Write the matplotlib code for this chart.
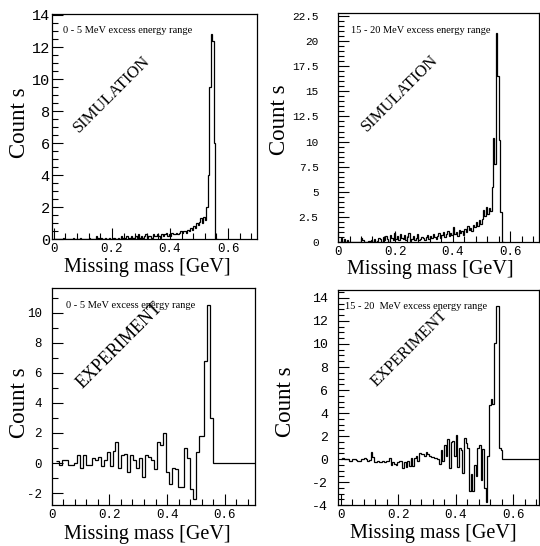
import numpy as np
import matplotlib
matplotlib.use("Agg")
import matplotlib.pyplot as plt
from matplotlib.ticker import MultipleLocator, FormatStrFormatter

SERIF = "Liberation Serif"
MONO = "Liberation Mono"

# ------------------------------------------------------------
# Simulated missing-mass spectra, 5 MeV bins starting at 0 GeV
# ------------------------------------------------------------
SIM_BIN = 0.005
sim_0_5 = [
    0, 0, 0, 0, 0, 0, 0.1, 0, 0, 0, 0, 0, 0, 0.1, 0, 0, 0, 0, 0.1, 0,
    0, 0, 0, 0, 0.1, 0, 0, 0, 0, 0.2, 0.1, 0, 0.1, 0, 0, 0.1, 0, 0, 0.1, 0,
    0, 0.1, 0, 0, 0.1, 0, 0.2, 0.1, 0, 0.1, 0.2, 0, 0.1, 0.2, 0.1, 0.1, 0.2, 0.1, 0.3, 0.1,
    0.2, 0.1, 0.2, 0.3, 0.1, 0.2, 0.2, 0.1, 0.3, 0.2, 0.2, 0.3, 0.2, 0.1, 0.3, 0.2, 0.3, 0.4, 0.2, 0.3,
    0.2, 0.4, 0.3, 0.3, 0.4, 0.3, 0.4, 0.5, 0.4, 0.5, 0.5, 0.4, 0.6, 0.5, 0.7, 0.6, 0.8, 0.7, 1.0, 0.9,
    1.1, 1.3, 1.0, 1.4, 1.2, 2.0, 4.0, 9.5, 12.8, 12.4, 6.0, 0, 0,
]
sim_15_20 = [
    0, 0, 0.4, 0, 0.3, 0, 0.2, 0, 0, 0, 0, 0, 0, 0, 0, 0, 0.4, 0.2, 0, 0,
    0, 0.1, 0, 0.2, 0, 0.3, 0, 0.1, 0.4, 0.3, 0, 0.5, 0.2, 0.6, 0.3, 0, 0.7, 0.4, 0.2, 0.9,
    0.3, 0.6, 0.2, 0.8, 0.4, 0.3, 0.7, 0.2, 0.5, 0.9, 0.1, 0.3, 0.6, 0.2, 0.4, 0.8, 0.2, 0.3, 0.5, 0.4,
    0.2, 0.5, 0.7, 0.3, 0.6, 0.4, 0.8, 0.5, 0.3, 0.6, 0.9, 0.4, 0.7, 1.0, 0.5, 0.8, 1.1, 0.6, 0.9, 0.7,
    1.5, 0.8, 1.0, 0.6, 1.2, 0.9, 1.1, 0.7, 1.3, 1.0, 1.6, 1.2, 1.4, 1.1, 1.7, 1.5, 2.0, 1.6, 2.2, 1.8,
    2.3, 3.2, 2.6, 3.5, 2.8, 3.4, 3.1, 5.5, 10.4, 7.8, 20.8, 16.5, 10.2, 3.0, 0, 0,
]

# ------------------------------------------------------------
# Experimental spectra (background subtracted)
# ------------------------------------------------------------
EXP_0_5_START, EXP_0_5_BIN = 0.015, 0.0103
exp_0_5 = [
    0.1, -0.1, 0.2, 0.2, -0.1, -0.1, 0.0, 0.5, -0.3, 0.5,
    -0.1, -0.1, 0.3, 0.2, 0.4, -0.2, 0.2, 0.7, -0.2, 0.8,
    1.4, -0.3, 0.5, 0.6, -0.6, 0.5, 0.2, -0.3, 0.3, -0.9,
    0.5, 0.4, 0.2, -0.4, 1.4, 1.2, 2.0, -0.6, -1.4, -0.3,
    -0.4, -1.6, -1.6, 1.0, 0.3, -1.7, -2.4, 0.7, 1.8, 1.8,
    6.8, 10.5, 3.0,
]
EXP_15_20_START, EXP_15_20_BIN = 0.0, 0.0058
exp_15_20 = [
    0, 0.1, 0, 0, 0, -0.2, -0.2, 0, 0, -0.1,
    -0.2, -0.2, 0, 0, 0.1, 0, -0.2, -0.1, 0.6, 0.2,
    -0.3, -0.3, -0.2, -0.3, -0.3, -0.2, -0.3, -0.2, -0.2, 0.1,
    -0.5, -0.3, -0.4, -0.5, -0.3, -0.2, -0.2, -0.8, -0.3, -0.7,
    -0.2, -0.6, 0.1, -0.6, 0.1, 0.3, -0.2, 0.5, 0.4, 0.4,
    0.3, 0.6, 0.4, 0.3, 0.2, 0.2, 0.1, 0.1, 0.0, -0.4,
    0.8, -0.2, 1.2, 0.3, 1.7, -0.8, 1.5, 1.6, 0.3, 2.1,
    -0.7, 1.0, 0.8, -1.2, 1.8, 1.4, 1.0, -2.8, -1.3, -2.8,
    -0.5, -1.5, 1.0, 1.2, -1.8, 0.9, -2.5, -3.7, 0.3, 4.7,
    5.2, 4.8, 10.1, 13.3, 13.3, 1.0, 0.8,
]
EXP_END = 0.75

range_0_5 = "0 - 5 MeV excess energy range"
range_15_20_sim = "15 - 20 MeV excess energy range"
range_15_20_exp = "15 - 20  MeV excess energy range"


def edges_from(start, width, n):
    return start + width * np.arange(n + 1)


def style_axes(ax, xlim, ylim, ymajor, yminor, ytick_size, ypad):
    ax.set_xlim(*xlim)
    ax.set_ylim(*ylim)
    ax.xaxis.set_major_locator(MultipleLocator(0.2))
    ax.xaxis.set_minor_locator(MultipleLocator(0.04))
    ax.xaxis.set_major_formatter(FormatStrFormatter("%g"))
    ax.yaxis.set_major_locator(MultipleLocator(ymajor))
    ax.yaxis.set_minor_locator(MultipleLocator(yminor))
    ax.yaxis.set_major_formatter(FormatStrFormatter("%g"))
    ax.tick_params(which="both", direction="in", top=False, right=False, width=0.8)
    ax.tick_params(which="major", length=8)
    ax.tick_params(which="minor", length=4)
    ax.tick_params(axis="x", pad=3, labelsize=9)
    ax.tick_params(axis="y", pad=ypad, labelsize=ytick_size)
    for lab in ax.get_xticklabels() + ax.get_yticklabels():
        lab.set_fontfamily(MONO)
    for sp in ax.spines.values():
        sp.set_linewidth(0.9)


def labels(ax, xl, yl):
    ax.set_xlabel("Missing mass [GeV]", fontfamily=SERIF, fontsize=14.5)
    ax.set_ylabel("Count s", fontfamily=SERIF, fontsize=16.5)
    ax.xaxis.set_label_coords(*xl)
    ax.yaxis.set_label_coords(*yl)
    ax.xaxis.label.set_verticalalignment("center")
    ax.yaxis.label.set_verticalalignment("center")


def notes(ax, rng, rng_xy, tag, tag_xy, tag_size):
    ax.text(*rng_xy, rng, transform=ax.transAxes, fontfamily=SERIF,
            fontsize=7.5, va="center", ha="left")
    ax.text(*tag_xy, tag, transform=ax.transAxes, fontfamily=SERIF,
            fontsize=tag_size, rotation=45, ha="center", va="center")


fig = plt.figure(figsize=(5.4, 5.46), dpi=100)

# top left: simulation 0-5 MeV
ax1 = fig.add_axes([0.096, 0.562, 0.380, 0.412])
ax1.stairs(sim_0_5, edges_from(0.0, SIM_BIN, len(sim_0_5)), color="k", lw=0.9)
style_axes(ax1, (-0.007, 0.700), (0, 14.05), 2, 0.5, 11, 1.5)
labels(ax1, (0.463, -0.124), (-0.156, 0.516))
notes(ax1, range_0_5, (0.054, 0.929), "SIMULATION", (0.293, 0.644), 12)

# top right: simulation 15-20 MeV
ax2 = fig.add_axes([0.626, 0.557, 0.372, 0.419])
ax2.stairs(sim_15_20, edges_from(0.0, SIM_BIN, len(sim_15_20)), color="k", lw=0.9)
style_axes(ax2, (0.0, 0.700), (0, 22.8), 2.5, 0.5, 8, 14)
labels(ax2, (0.458, -0.122), (-0.292, 0.533))
notes(ax2, range_15_20_sim, (0.065, 0.926), "SIMULATION", (0.308, 0.651), 12)

# bottom left: experiment 0-5 MeV
ax3 = fig.add_axes([0.096, 0.075, 0.376, 0.398])
e3 = np.append(edges_from(EXP_0_5_START, EXP_0_5_BIN, len(exp_0_5)), EXP_END)
ax3.stairs(exp_0_5 + [0.0], e3, color="k", lw=0.9, baseline=None)
style_axes(ax3, (0.0, 0.705), (-2.8, 11.67), 2, 1, 9, 7)
labels(ax3, (0.468, -0.134), (-0.158, 0.47))
notes(ax3, range_0_5, (0.069, 0.917), "EXPERIMENT", (0.335, 0.733), 13)

# bottom right: experiment 15-20 MeV
ax4 = fig.add_axes([0.626, 0.075, 0.372, 0.394])
e4 = np.append(edges_from(EXP_15_20_START, EXP_15_20_BIN, len(exp_15_20)), EXP_END)
ax4.stairs(exp_15_20 + [0.0], e4, color="k", lw=0.9, baseline=None)
style_axes(ax4, (-0.009, 0.690), (-4, 14.7), 2, 0.5, 9.5, 7)
labels(ax4, (0.473, -0.130), (-0.264, 0.479))
notes(ax4, range_15_20_exp, (0.035, 0.921), "EXPERIMENT", (0.358, 0.730), 11.5)

fig.savefig("out.png", dpi=100)
